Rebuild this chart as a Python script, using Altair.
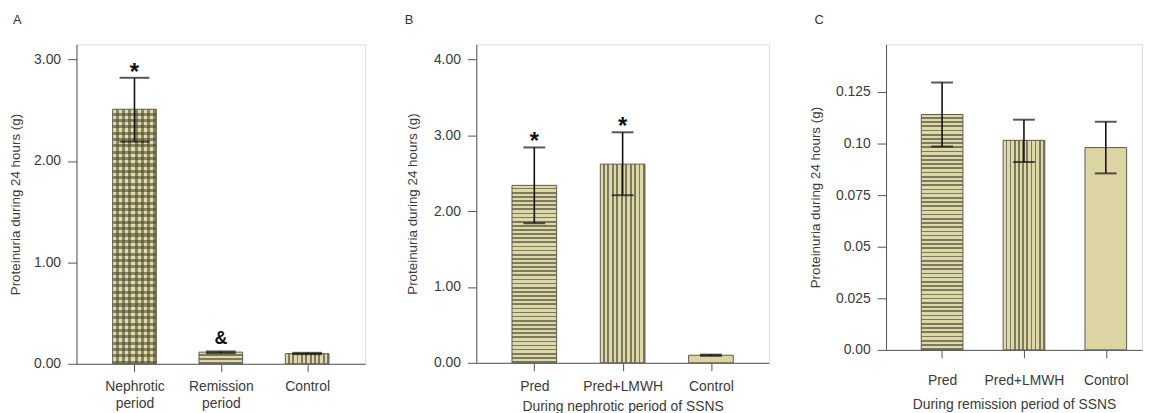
import altair as alt
import pandas as pd

# ---------------- data ----------------
A_cats = ["Nephrotic period", "Remission period", "Control"]
A_mean = [2.51, 0.115, 0.10]
A_lo = [2.19, 0.105, 0.095]
A_hi = [2.82, 0.122, 0.108]
A_pattern = ["cross", "hstripe", "vstripe"]
A_mark = ["*", "&", ""]

B_cats = ["Pred", "Pred+LMWH", "Control"]
B_mean = [2.34, 2.62, 0.10]
B_lo = [1.84, 2.21, 0.092]
B_hi = [2.84, 3.04, 0.108]
B_pattern = ["hstripe", "vstripe", "plain"]
B_mark = ["*", "*", ""]

C_cats = ["Pred", "Pred+LMWH", "Control"]
C_mean = [0.114, 0.1015, 0.098]
C_lo = [0.0985, 0.091, 0.0855]
C_hi = [0.1295, 0.1115, 0.1105]
C_pattern = ["hstripe", "vstripe", "plain"]
C_mark = ["", "", ""]

A_ticks = [0, 1, 2, 3]
B_ticks = [0, 1, 2, 3, 4]
C_ticks = [0, 0.025, 0.05, 0.075, 0.1, 0.125]

YTITLE = "Proteinuria during 24 hours (g)"
FONT = "Liberation Sans"
LIGHT = "#DED8A8"
DARK = "#7C7A5C"
PLAIN = "#DCD5A3"
STROKE = "#5A5A50"
TXT = "#3A3A3A"


def stripes(n, horizontal, light=LIGHT, dark=DARK, light_frac=0.6):
    stops = []
    n = max(int(round(n)), 1)
    for i in range(n):
        a = i / n
        b = (i + light_frac) / n
        c = (i + 1) / n
        stops += [
            {"offset": a, "color": light},
            {"offset": b, "color": light},
            {"offset": b, "color": dark},
            {"offset": c, "color": dark},
        ]
    return {
        "gradient": "linear",
        "x1": 0, "y1": 0,
        "x2": 0 if horizontal else 1,
        "y2": 1 if horizontal else 0,
        "stops": stops,
    }


def panel(cats, mean, lo, hi, pattern, marks, ymax, ticks, width, height,
          barw, capw, pad_outer, title, xtitle, label_pad, xtitle_pad, dx, extent, title_pad,
          ylabel_expr=None, xlabel_expr=None, xoff=0, star_size=24):
    df = pd.DataFrame({"cat": cats, "mean": mean, "lo": lo, "hi": hi,
                       "pattern": pattern, "mark": marks})
    ppu = height / ymax
    xscale = alt.Scale(domain=cats, paddingInner=0, paddingOuter=pad_outer)
    xaxis_kw = dict(labelAngle=0, tickSize=8, labelPadding=label_pad, labelFontSize=14,
                    labelFont=FONT, labelColor=TXT, domainColor="#555555", tickColor="#555555",
                    titleFont=FONT, titleFontSize=14, titleFontWeight="normal", titleColor=TXT,
                    titlePadding=xtitle_pad, labelLineHeight=17, tickOffset=xoff)
    if xlabel_expr:
        xaxis_kw["labelExpr"] = xlabel_expr
    xenc = alt.X("cat:N", scale=xscale, axis=alt.Axis(**xaxis_kw),
                 title=xtitle if xtitle else None)
    yaxis_kw = dict(values=ticks, format=".2f", tickSize=9, labelPadding=7, labelFontSize=14,
                    labelFont=FONT, labelColor=TXT, domainColor="#555555", tickColor="#555555",
                    grid=False, titleFont=FONT, titleFontSize=13.5, titleFontWeight="normal",
                    titleColor=TXT, titlePadding=title_pad, minExtent=extent, maxExtent=extent)
    if ylabel_expr:
        yaxis_kw["labelExpr"] = ylabel_expr
    yscale = alt.Scale(domain=[0, ymax], nice=False, zero=True)

    def yenc(field):
        return alt.Y(f"{field}:Q", scale=yscale, axis=alt.Axis(**yaxis_kw), title=YTITLE)

    base = alt.Chart(df)
    layers = []
    for c, m, p in zip(cats, mean, pattern):
        hpx = m * ppu
        sel = base.transform_filter(alt.datum.cat == c)
        if p == "plain":
            layers.append(sel.mark_bar(size=barw, fill=PLAIN, stroke=STROKE, strokeWidth=1,
                                       xOffset=xoff)
                          .encode(x=xenc, y=yenc("mean")))
        elif p == "hstripe":
            layers.append(sel.mark_bar(size=barw, fill=stripes(hpx / 4.2, True),
                                       stroke=STROKE, strokeWidth=1, xOffset=xoff)
                          .encode(x=xenc, y=yenc("mean")))
        elif p == "vstripe":
            layers.append(sel.mark_bar(size=barw, fill=stripes(barw / 4.3, False),
                                       stroke=STROKE, strokeWidth=1, xOffset=xoff)
                          .encode(x=xenc, y=yenc("mean")))
        else:  # cross-hatched
            layers.append(sel.mark_bar(size=barw, fill="#E2DCAC", xOffset=xoff)
                          .encode(x=xenc, y=yenc("mean")))
            layers.append(sel.mark_bar(size=barw, xOffset=xoff,
                                       fill=stripes(hpx / 6.4, True, "rgba(0,0,0,0)",
                                                    "rgba(78,76,48,0.6)", 0.52))
                          .encode(x=xenc, y=yenc("mean")))
            layers.append(sel.mark_bar(size=barw, xOffset=xoff,
                                       fill=stripes(barw / 6.4, False, "rgba(0,0,0,0)",
                                                    "rgba(78,76,48,0.6)", 0.52),
                                       stroke=STROKE, strokeWidth=1)
                          .encode(x=xenc, y=yenc("mean")))
    err = base.mark_rule(color="#111111", strokeWidth=1.6, xOffset=xoff).encode(
        x=xenc, y=yenc("lo"), y2="hi:Q")
    cap_lo = base.mark_tick(color="#111111", size=capw, thickness=2, orient="horizontal",
                            xOffset=xoff).encode(x=xenc, y=yenc("lo"))
    cap_hi = base.mark_tick(color="#111111", size=capw, thickness=2, orient="horizontal",
                            xOffset=xoff).encode(x=xenc, y=yenc("hi"))
    star = base.transform_filter(alt.datum.mark == "*").mark_text(
        fontSize=star_size, fontWeight="bold", font=FONT, color="#111111", baseline="alphabetic",
        dy=2, xOffset=xoff).encode(x=xenc, y=yenc("hi"), text="mark:N")
    amp = base.transform_filter(alt.datum.mark == "&").mark_text(
        fontSize=18, fontWeight="bold", font=FONT, color="#111111", baseline="alphabetic",
        dy=-7, xOffset=xoff).encode(x=xenc, y=yenc("hi"), text="mark:N")
    layers += [err, cap_lo, cap_hi, star, amp]
    return alt.layer(*layers).properties(
        width=width, height=height,
        title=alt.TitleParams(title, anchor="start", frame="bounds", fontSize=13,
                              fontWeight="normal", font=FONT, color="#333333", offset=17, dx=dx),
    )


pA = panel(A_cats, A_mean, A_lo, A_hi, A_pattern, A_mark, 3.15, A_ticks, 291, 322,
           44, 30, 0.172, "A", None, 8, 0, 4, 43, 11,
           xlabel_expr="split(datum.label, ' ')")
pB = panel(B_cats, B_mean, B_lo, B_hi, B_pattern, B_mark, 4.2, B_ticks, 295, 321,
           45, 22, 0.157, "B", "During nephrotic period of SSNS", 9, 6, -1, 44, 13)
pC = panel(C_cats, C_mean, C_lo, C_hi, C_pattern, C_mark, 0.148, C_ticks, 258, 308,
           42, 22, 0.0636, "C", "During remission period of SSNS", 16, 10, 6, 53, 11,
           ylabel_expr="datum.value == 0 ? '0.00' : (datum.value == 0.05 ? '0.05' : (datum.value == 0.1 ? '0.10' : format(datum.value, '.3f')))",
           xoff=10)

chart = alt.hconcat(pA, pB, pC, spacing=38).properties(
    padding={"left": 0, "top": 4, "right": 0, "bottom": 0}
).configure_view(
    fill="#F2F3F6", stroke="#555555", strokeWidth=1
).configure(background="white")

chart.save("out.html", embed_options={"renderer": "svg", "actions": False})
